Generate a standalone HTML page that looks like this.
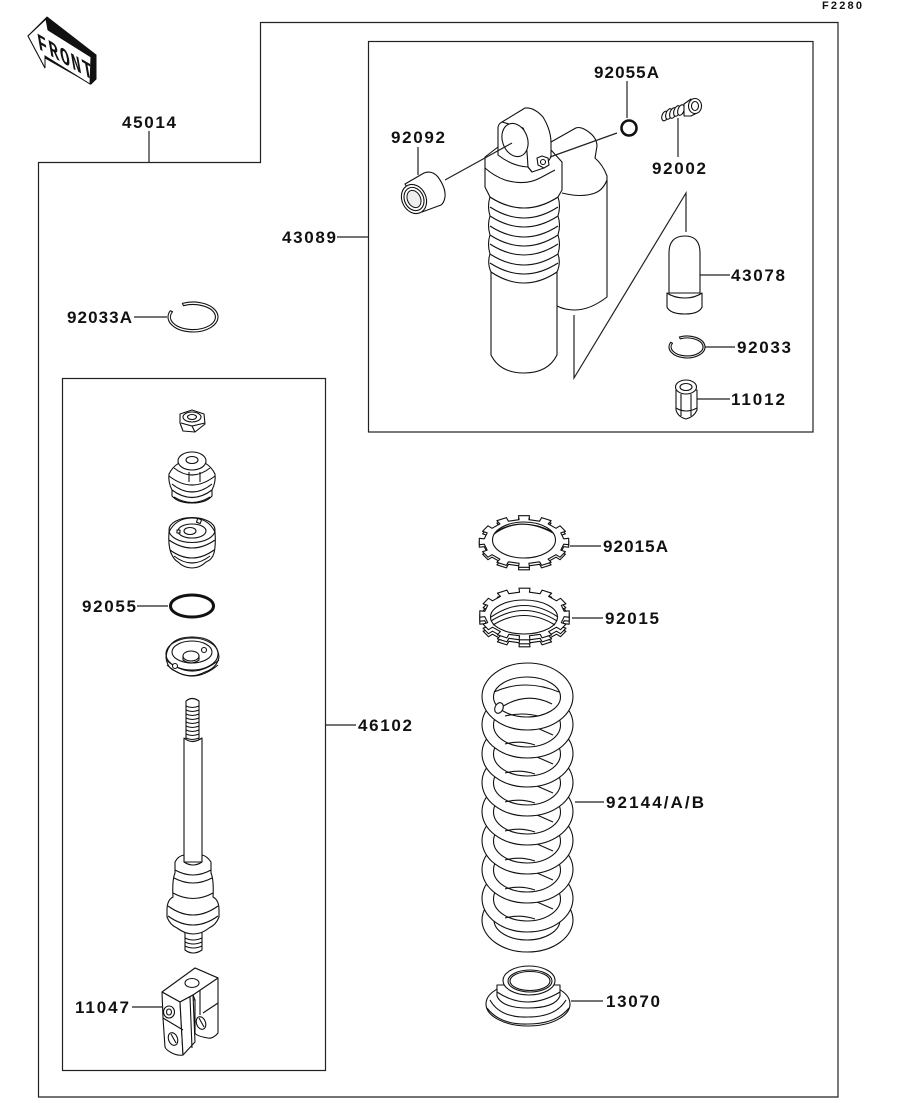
<!DOCTYPE html>
<html><head><meta charset="utf-8"><style>
html,body{margin:0;padding:0;background:#fff}
svg{display:block}
text{font-family:"Liberation Sans",sans-serif;font-weight:bold;font-size:17px;fill:#111}
.s{fill:none;stroke:#111;stroke-width:1.1}
.w{fill:#fff;stroke:#111;stroke-width:1.1;stroke-linejoin:round}
.l{fill:none;stroke:#222;stroke-width:1.2}
</style></head><body>
<svg width="914" height="1103" viewBox="0 0 914 1103" xmlns="http://www.w3.org/2000/svg">
<defs>
<g id="coil">
<ellipse class="w" cx="527.500" cy="724.500" rx="45.500" ry="33.500"/>
<ellipse class="w" cx="527" cy="725" rx="33.500" ry="22"/>
<path class="s" d="M537,728L553,735M505,744Q520,740 535,745"/>
</g>
<path id="tooth" class="w" d="M44.700,-3.200L44.700,3.200L39.700,2.700L36.800,8.600L41.400,10.200L36,15.700L32,13.200L24.100,17.600L27.100,20.800L17.600,23.900L15.600,20.300L4.900,21.800L5.500,25.800L-5.500,25.800L-4.900,21.800L-15.600,20.300L-17.600,23.900L-27.100,20.800L-24.100,17.600L-32,13.200L-36,15.700L-41.400,10.200L-36.800,8.600L-39.700,2.700L-44.700,3.200L-44.700,-3.200L-39.700,-2.700L-36.800,-8.600L-41.400,-10.200L-36,-15.700L-32,-13.200L-24.100,-17.600L-27.100,-20.800L-17.600,-23.900L-15.600,-20.300L-4.900,-21.800L-5.500,-25.800L5.500,-25.800L4.900,-21.800L15.600,-20.300L17.600,-23.900L27.100,-20.800L24.100,-17.600L32,-13.200L36,-15.700L41.400,-10.200L36.800,-8.600L39.700,-2.700Z"/>
</defs>

<!-- frames -->
<path class="l" d="M260.500,22.500H838V1097H38.500V162.500H260.500Z"/>
<rect class="l" x="368.500" y="41.500" width="444.500" height="390.500"/>
<rect class="l" x="62.500" y="378.500" width="263" height="692"/>

<!-- FRONT arrow -->
<polygon fill="#111" stroke="#111" points="47,17 96,55 96,79 91,84 45,58 45,68 28,36"/>
<polygon fill="#fff" stroke="#111" points="28,36 46,19 48,30 91,57 90,84 45,56 45,68"/>
<text transform="translate(39,49) skewY(30) skewX(11) scale(.72,1)" style="font-family:'Liberation Mono',monospace;font-size:22px;letter-spacing:2.400px">FRONT</text>

<text x="822" y="9" textLength="40" style="font-size:11px">F2280</text>

<!-- connectors and labels -->
<path class="l" d="M149,131V162M134,317H167M337,237H368M418,147V175M627,81V118M678,118V157M700,275H730M705,347H735M697,399H730M570,546H601M572,618H603M575,802H604M571,1001H603M325,725H356M137,606H168M132,1007H162"/>
<text x="122" y="128" textLength="54">45014</text>
<text x="67" y="323" textLength="65">92033A</text>
<text x="282" y="243" textLength="54">43089</text>
<text x="391" y="143" textLength="54">92092</text>
<text x="594" y="78" textLength="65">92055A</text>
<text x="652" y="174" textLength="54">92002</text>
<text x="731" y="281" textLength="54">43078</text>
<text x="737" y="353" textLength="54">92033</text>
<text x="731" y="405" textLength="54">11012</text>
<text x="603" y="552" textLength="65">92015A</text>
<text x="605" y="624" textLength="54">92015</text>
<text x="606" y="808" textLength="98">92144/A/B</text>
<text x="606" y="1007" textLength="54">13070</text>
<text x="358" y="731" textLength="54">46102</text>
<text x="82" y="612" textLength="54">92055</text>
<text x="75" y="1013" textLength="54">11047</text>

<!-- shock: reservoir -->
<path class="w" d="M551,142L574,129Q578,126 584,129Q597,136 597,146Q596,152 595,158Q603,165 607,176L607,297Q590,310 575,310Q565,310 557,306L540,200Z"/>
<path class="s" d="M562,193Q582,198 595,193Q603,190 607,180"/>
<!-- lower tube -->
<path class="w" d="M491,270L491,355Q500,373 524,373Q548,373 557,355L557,270Z"/>
<!-- bellows -->
<path class="w" d="M490,197Q487,206 490,216Q487,225 490,235Q487,244 490,254Q487,263 491,272Q524,294 557,272Q561,263 558,254Q561,244 558,235Q561,225 558,216Q561,206 558,197Z"/>
<path class="s" d="M490,197Q524,219 558,197M490,207Q524,229 558,207M490,216Q524,238 558,216M490,226Q524,248 558,226M490,235Q524,257 558,235M490,244Q524,266 558,244M490,254Q524,276 558,254M490,263Q524,285 558,263"/>
<!-- upper housing -->
<path class="w" d="M498,147L485,157V187L490,197Q524,219 558,197L562,190V162L551,150Z"/>
<path class="s" d="M485,168Q494,176 505,180Q525,186 540,178L555,170"/>
<!-- eyelet -->
<path class="w" d="M498,155V128Q498,124 502,122L525,108Q534,107 543,117Q551,130 551,143V157L544,168L532,172L528,167Q512,166 498,155Z"/>
<path class="s" d="M502,122L523,128Q526,132 528,167M528,167L532,172"/>
<ellipse class="w" cx="515" cy="140" rx="12.500" ry="17" transform="rotate(-20 515 140)"/>
<path class="w" d="M537,158L542,156L548,158L549,165L544,168L538,165Z"/>
<circle class="s" cx="543" cy="162" r="2.500"/>
<path class="l" d="M512,143L445,180M550,157L617,133"/>
<ellipse cx="629" cy="128" rx="7.500" ry="7.500" fill="none" stroke="#111" stroke-width="2.600"/>

<!-- bush 92092 -->
<path class="w" d="M405,184L424,173Q432,170 438,177Q446,188 445,197Q444,203 441,205L422,212Z"/>
<ellipse class="w" cx="414" cy="199" rx="12" ry="15" transform="rotate(-25 414 199)"/>
<ellipse class="s" cx="414" cy="199" rx="9.500" ry="12" transform="rotate(-25 414 199)"/>
<ellipse fill="#eee" stroke="#111" stroke-width="1" cx="414" cy="199" rx="6.500" ry="9" transform="rotate(-25 414 199)"/>

<!-- bolt 92002 -->
<ellipse class="w" cx="665" cy="116" rx="3" ry="5" transform="rotate(20 665 116)"/>
<ellipse class="w" cx="669" cy="114" rx="3" ry="5.500" transform="rotate(20 669 114)"/>
<ellipse class="w" cx="673" cy="113" rx="3" ry="5.500" transform="rotate(20 673 113)"/>
<ellipse class="w" cx="677" cy="111" rx="3" ry="5.500" transform="rotate(20 677 111)"/>
<ellipse class="w" cx="681" cy="110" rx="3" ry="5.500" transform="rotate(20 681 110)"/>
<path class="w" d="M684,104L691,99L699,112L691,116L684,116Z"/>
<ellipse class="w" cx="695" cy="106" rx="6.500" ry="7.500"/>
<ellipse class="s" cx="695" cy="106" rx="3.500" ry="4.500"/>

<!-- breakout line -->
<path class="l" d="M574,315V378L686,193V232"/>

<!-- cap 43078 -->
<path class="w" d="M669,293V253Q669,236 685,236Q700,236 700,253V293Z"/>
<path class="w" d="M667,293V307Q670,314 685,314Q699,314 702,307V293Q695,298 685,298Q674,298 667,293Z"/>

<!-- circlip 92033 -->
<path class="w" d="M679.400,337A18,11 0 1 1 670.700,342.300L672.500,343.200A16,9 0 1 0 680.200,338.800Z"/>

<!-- nut 11012 -->
<path class="w" d="M676,390V410Q678,417 686,419Q694,417 697,410V390Z"/>
<ellipse class="w" cx="686" cy="387" rx="10.500" ry="7"/>
<ellipse class="s" cx="686" cy="387" rx="6" ry="3.500"/>
<path class="s" d="M681,394V416M691,394V416M676,408Q686,414 697,408"/>

<!-- circlip 92033A -->
<path class="w" d="M182.400,303.400A25,15 0 1 1 170.300,310.700L172.600,311.700A22.500,12.500 0 1 0 183.500,305.700Z"/>

<!-- nut -->
<path class="w" d="M180,414L192,410L204,414L205,424L195,432L183,431L180,423Z"/>
<ellipse class="s" cx="192" cy="417" rx="9" ry="5"/><ellipse class="s" cx="192" cy="417" rx="4.500" ry="2.500"/>
<path class="s" d="M181,423L192,426L205,423M192,426L195,432"/>

<!-- bush 1 -->
<path class="w" d="M169,474Q168,482 172,490V496Q178,503 192,503Q206,503 212,496V490Q216,482 215,474Q208,460 192,460Q176,460 169,474Z"/>
<path class="s" d="M169,476Q192,494 215,476M172,484Q192,500 212,484M172,490Q192,505 212,490M174,497Q192,508 210,497"/>
<ellipse class="w" cx="192" cy="461" rx="14" ry="9"/>
<ellipse class="s" cx="192" cy="460" rx="6" ry="3.500"/>
<path class="s" d="M174,468Q192,482 210,468M189,472V482M200,472V482"/>

<!-- bush 2 -->
<path class="w" d="M169,532Q168,545 171,553Q174,560 178,562Q184,568 192,568Q200,568 206,562Q212,560 214,553Q216,545 215,532Q208,518 192,518Q176,518 169,532Z"/>
<ellipse class="s" cx="192" cy="530" rx="23" ry="12.500"/>
<ellipse class="s" cx="192" cy="531" rx="14" ry="7"/>
<ellipse class="s" cx="190" cy="531" rx="6" ry="3.500"/>
<path class="s" d="M169,540Q192,556 215,540M170,550Q192,566 214,550M174,556Q192,570 210,556"/>
<rect class="w" x="197" y="519" width="4" height="4" transform="rotate(20 199 521)"/>
<rect class="w" x="177" y="530" width="3" height="3"/>

<!-- o-ring 92055 -->
<ellipse cx="192" cy="606" rx="21.500" ry="11" fill="none" stroke="#111" stroke-width="3"/>

<!-- cup -->
<path class="w" d="M166,657Q167,668 175,671Q190,680 205,672Q217,668 219,657Q217,637 192,637Q168,637 166,657Z"/>
<ellipse class="s" cx="192" cy="654" rx="26" ry="16"/>
<ellipse class="s" cx="192" cy="652" rx="20" ry="11"/>
<ellipse class="s" cx="191" cy="656" rx="8" ry="5"/>
<path class="s" d="M183,656V660Q191,666 199,660V656M166,660Q192,682 219,660M167,665Q192,687 218,665"/>
<circle class="w" cx="204" cy="650" r="2.500"/><circle class="w" cx="175" cy="666" r="2.500"/>

<!-- rod -->
<path class="w" d="M186,701Q192,696 199,701V742H186Z"/>
<path class="s" d="M186,706Q192,709 199,706M186,710Q192,713 199,710M186,714Q192,717 199,714M186,718Q192,721 199,718M186,722Q192,725 199,722M186,726Q192,729 199,726M186,730Q192,733 199,730M186,734Q192,737 199,734M186,738Q192,741 199,738"/>
<path class="w" d="M184,738Q192,745 202,738V862H184Z"/>
<!-- lower thread & piston -->
<path class="w" d="M185,928V950Q193,956 202,950V928Z"/>
<path class="s" d="M185,938Q193,942 202,938M185,942Q193,946 202,942M185,946Q193,950 202,946"/>
<path class="w" d="M175,862V873Q172,880 173,897Q167,900 167,910V917Q170,925 177,928Q185,934 193,934Q202,934 209,928Q216,925 219,917V910Q219,900 213,897Q214,880 211,873V862Q207,856 202,855V862Q193,868 184,862V855Q178,856 175,862Z"/>
<path class="s" d="M175,870Q193,880 211,870M174,878Q193,888 212,878M173,893Q193,904 213,893M168,906Q193,924 218,906M168,916Q193,934 218,916"/>

<!-- clevis -->
<path class="w" d="M195,968L218,978V1033Q213,1039 208,1038Q196,1036 195,1033V1000L193,995Z"/>
<path class="s" d="M203,1013L218,1003M200,984V1015M195,1000H192"/>
<path class="w" d="M162,992L195,968L218,978L193,995L180,1002Z"/>
<ellipse class="w" cx="192" cy="983" rx="7" ry="4.500"/>
<path class="w" d="M162,992L180,1002L183,1055Q178,1056 172,1053Q166,1050 165,1047L163,1018Z"/>
<path class="w" d="M180,1002L193,995L195,1042L183,1055Z"/>
<path class="s" d="M163,1018L183,1030M190,997L192,1048"/>
<ellipse class="w" cx="169" cy="1012" rx="5.500" ry="6"/><ellipse class="s" cx="169" cy="1012" rx="2.500" ry="3"/>
<ellipse class="w" cx="173" cy="1039" rx="4.500" ry="6.500" transform="rotate(-20 173 1039)"/>
<path class="s" d="M171,1034L176,1043"/>
<ellipse class="w" cx="201" cy="1023" rx="4.500" ry="6.500" transform="rotate(-20 201 1023)"/>
<path class="s" d="M199,1018L204,1027"/>

<!-- ring nut 92015A -->
<use href="#tooth" x="524" y="544"/>
<use href="#tooth" x="524" y="541.500"/>
<ellipse class="w" cx="524" cy="540" rx="31.500" ry="18"/>
<path class="s" d="M494,534Q520,515 553,533M497,531Q522,517 551,531"/>

<!-- ring nut 92015 -->
<use href="#tooth" x="524.500" y="621"/>
<use href="#tooth" x="524.500" y="618"/>
<use href="#tooth" x="524.500" y="614"/>
<ellipse class="w" cx="524" cy="617" rx="33.500" ry="17"/>
<path class="s" d="M491,617Q524,594 558,617M491,621Q524,600 557,621M493,625Q524,606 555,625"/>

<!-- spring -->
<ellipse class="w" cx="527.500" cy="920" rx="45.500" ry="32"/>
<ellipse class="w" cx="527" cy="920" rx="33" ry="20"/>
<use href="#coil" y="174"/>
<use href="#coil" y="145"/>
<use href="#coil" y="116"/>
<use href="#coil" y="87"/>
<use href="#coil" y="58"/>
<use href="#coil" y="29"/>
<use href="#coil"/>
<ellipse class="w" cx="527.500" cy="696.500" rx="45.500" ry="33.500"/>
<ellipse class="w" cx="527" cy="697" rx="33.500" ry="20"/>
<path class="s" d="M494,692Q525,678 559,692M497,710Q525,690 552,704M505,716Q522,712 538,716"/>
<ellipse class="w" cx="499" cy="708" rx="4" ry="5.500" transform="rotate(25 499 708)"/>

<!-- seat 13070 -->
<ellipse class="w" cx="528" cy="1004" rx="42" ry="22"/>
<path class="s" d="M487,1008Q500,1025 528,1024Q556,1024 569,1008"/>
<path class="w" d="M497,985V996Q502,1008 528,1008Q555,1008 560,996V985Z"/>
<ellipse class="w" cx="529" cy="980.500" rx="26" ry="14.500"/>
<ellipse class="s" cx="530" cy="981" rx="22" ry="11"/>
<ellipse class="s" cx="530" cy="981" rx="20" ry="9.500"/>
<path class="s" d="M497,992Q527,1012 560,992M490,1000Q500,1018 528,1017Q556,1017 566,1000"/>
</svg>
</body></html>
